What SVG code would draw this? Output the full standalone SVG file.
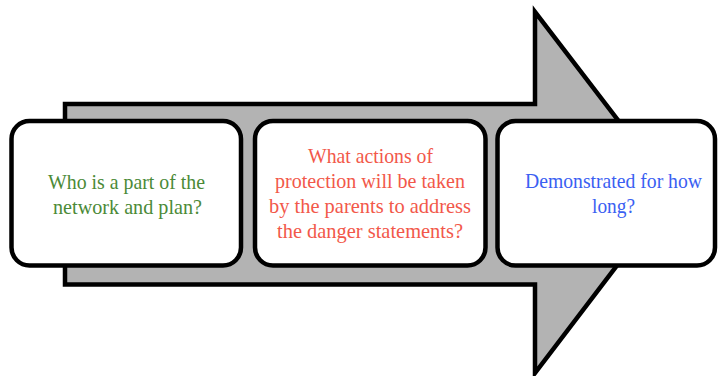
<svg xmlns="http://www.w3.org/2000/svg" width="719" height="376" viewBox="0 0 719 376">
  <style>
    .arrow { fill: #b3b3b3; stroke: #000; stroke-width: 4.5; stroke-linejoin: miter; }
    .box { fill: #fff; stroke: #000; stroke-width: 4.5; }
    .lbl { font-family: "Liberation Serif", "DejaVu Serif", serif; font-size: 22px; text-anchor: middle; }
    .green { fill: #4b8a37; }
    .red { fill: #f2584a; }
    .blue { fill: #3a60f2; }
  </style>
  <rect width="719" height="376" fill="#fff"/>

  <!-- Background process arrow -->
  <g id="connectors">
    <path class="arrow" d="M65,104 L535,104 L535,12 L673,192 L535,373 L535,284.5 L65,284.5 Z"/>
  </g>

  <!-- Step 1 -->
  <g id="step1">
    <rect class="box" x="11.5" y="121" width="229.5" height="144.5" rx="18"/>
    <text class="lbl green" x="126.5" y="189" textLength="157" lengthAdjust="spacingAndGlyphs">Who is a part of the</text>
    <text class="lbl green" x="127.5" y="214" textLength="149" lengthAdjust="spacingAndGlyphs">network and plan?</text>
  </g>

  <!-- Step 2 -->
  <g id="step2">
    <rect class="box" x="255" y="121" width="230.5" height="144.5" rx="18"/>
    <text class="lbl red" x="370.5" y="163" textLength="125" lengthAdjust="spacingAndGlyphs">What actions of</text>
    <text class="lbl red" x="370" y="188" textLength="190" lengthAdjust="spacingAndGlyphs">protection will be taken</text>
    <text class="lbl red" x="370" y="213" textLength="202" lengthAdjust="spacingAndGlyphs">by the parents to address</text>
    <text class="lbl red" x="370" y="238" textLength="186" lengthAdjust="spacingAndGlyphs">the danger statements?</text>
  </g>

  <!-- Step 3 -->
  <g id="step3">
    <rect class="box" x="497.5" y="121" width="217.5" height="144.5" rx="18"/>
    <text class="lbl blue" x="613.5" y="188" textLength="177" lengthAdjust="spacingAndGlyphs">Demonstrated for how</text>
    <text class="lbl blue" x="613.5" y="213" textLength="43" lengthAdjust="spacingAndGlyphs">long?</text>
  </g>
</svg>
